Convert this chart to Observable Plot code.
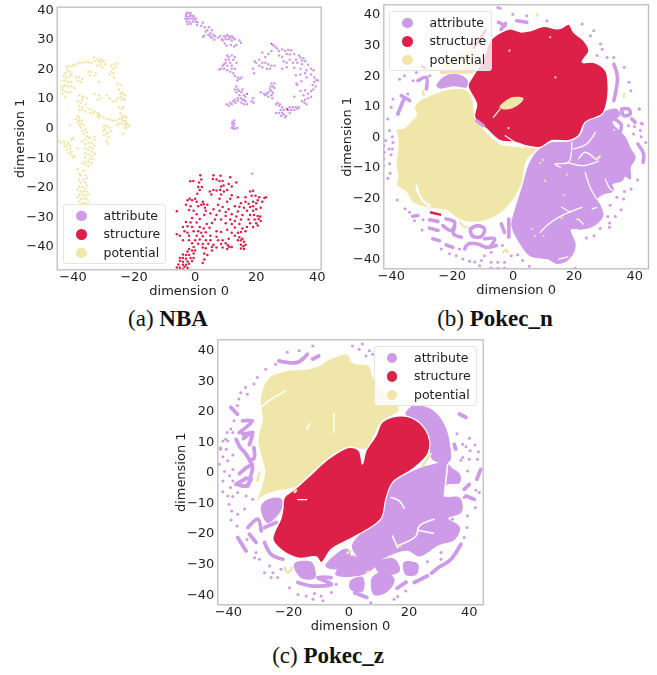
<!DOCTYPE html>
<html><head><meta charset="utf-8">
<script src="https://cdn.jsdelivr.net/npm/d3@7"></script>
<script src="https://cdn.jsdelivr.net/npm/@observablehq/plot@0.6"></script>
<style>
html,body{margin:0;padding:0;background:#fff}
#page{position:relative;width:657px;height:675px;overflow:hidden}
.legend{position:absolute;box-sizing:border-box;background:rgba(255,255,255,.8);border:1px solid #e4e4e4;border-radius:3px;font:12.5px "DejaVu Sans",sans-serif;color:#222;filter:blur(.25px)}
.legend .s{position:absolute;width:10.5px;height:10.5px;border-radius:50%;left:12px}
.legend .t{position:absolute;left:39.5px;line-height:14px}
.cap{position:absolute;font:23px "Liberation Serif",serif;color:#111;text-align:center;white-space:nowrap}
.cap b{font-weight:bold}
svg{filter:blur(.3px)}
</style></head><body><div id="page"></div>
<script>
const classes = ["attribute","structure","potential"];
const colors = ["#cd9be8","#dd2047","#f1e6a9"];
const tickValues = [-40,-20,0,20,40];
const yTickValues = [-40,-30,-20,-10,0,10,20,30,40];

// ---- (a) NBA
const nbaAttribute = [[-3,38.5],[-2.5,39],[-2,38.7],[-1.5,38.8],[-3,37.8],[-2.3,37.6],[-1.6,37.9],[-1,38],[-0.5,37.7],[-3.2,37],[-2.6,36.8],[-1.8,36.9],[-1,37],[-0.3,36.8],[0.3,37],[-2.8,36],[-1.9,35.8],[-0.7,36],[0.2,36],[0.8,35.7],[-2.4,35],[-1.4,35.2],[0.6,34.8],[2,34.5],[2.5,35.5],[3.2,34],[4,33],[3.5,32.5],[4.5,34],[5,32],[5.5,33],[5,31],[4.3,31.5],[3,31.2],[2.6,30.7],[5.5,30.5],[6,31.5],[6.5,31],[6.3,29.8],[7.5,30.5],[8.2,31],[8.8,30],[9.5,31],[10,30.8],[10.5,31.5],[11,31],[11.5,30.5],[12,31],[12.5,30.5],[11,30],[10,30],[9,29.5],[12,29.5],[13,30],[13.5,28],[14.5,29.5],[15,28.8],[12.8,27.5],[11.7,28],[10.3,27.8],[9.7,28.5],
[10.5,24.5],[11,24],[12,24.5],[13,24],[10,23],[11,23],[12.5,23],[10,22],[11.5,22],[9.5,21.5],[13.5,22],[9,21],[10.5,21],[12,21],[8.5,20],[9.5,20],[8,19.7],[10.5,19.5],[12,20],[13,20],[11.5,19],[12.5,18.5],[13,17.5],[14,17],[13.8,16],[14.6,16.5],[15.2,17],
[13.5,14],[13,13],[14,13],[14.5,12.5],[15.2,12],[15.5,13],[13.5,12],[16,11],[14.5,11],[16.5,10.5],[14,10],[15,10],[15.5,9.5],[13,9.5],[14,9.2],[16,9.5],[12.5,9],[13.2,8.5],[15.2,8.5],[16,8],[17,8],[16.5,9],[11.5,8.5],[12,8],[11,7.5],[10.3,8],[18.5,9],[19,10],[19.2,8.5],
[12.2,2],[12.8,2.5],[12.2,1.2],[12.6,0.5],[12,0],[13,-0.3],[13.8,0],[12.5,-0.2],[12.8,1.5],[18.7,-15.5],
[25.5,28],[26.2,27.5],[26.8,26.8],[27.5,26],[28.5,26.5],[29.5,26],[30.5,26.3],[31.5,26.2],[30,25],[31,24.8],[27.5,24.5],[28.5,24],[32.5,25],[34,24.5],[34.5,23.8],[35.5,23.5],[36,22.5],[35,22.8],[33,23],[31,23],[29,22.5],[30,22],[32,22],[33.5,22],[35,21.5],[37,21.3],[38,20],[38.8,19.5],[36.5,19.5],[34.5,20],[32.5,20.3],[30,20.5],[28.5,20],[36,18.5],[38,18],[39,17],[39.7,16.2],[40.2,16],[39,15.5],[38.5,14.5],[36.5,17],[34.5,18],[33,17.8],[34.8,15.8],[33.2,15],[39.5,14],[38.7,13],[38,12.5],[37,11.5],[38,10.5],[37,10],[36,9.5],[35,9],[35.5,11],[36.5,8],[35.8,8.5],[34.5,12.5],[36,12.7],[34,7],[33.5,6.5],[33,7],[32.5,6],[32,7],[31.5,6],[31,7],[30.5,6],[30,6.5],[29,6],[28.5,7],[28,6],[27.5,7.5],[27,8.5],[26.5,8],[27.8,8],[28.5,5],[29,4.5],[29.8,4],[28.2,4],[27.5,5],[26.5,5],[29.5,3.5],[31,5],
[20,22],[21,23],[22,25.5],[23,24],[24,25],[25,26],[22,22],[23,22],[24,21.5],[25,21],[26,21],[21,21],[19,20],[19.5,22.5],[19.3,18.5],[22,20.5],[23.5,20],[24.5,20],[26,15],[25,15],[24.7,14],[25.5,14],[26,13.5],[24.5,13],[25,12.5],[24,12],[23.5,11.5],[22.5,11.5],[25.5,11.8],[25,11],[24,10.5],[23,11],[25.3,10],[21.5,12],[33.5,14.5],[32.5,10.5]];
const nbaStructureOutliers = [[25,28.5],[17,11.5],[30.2,6.2]];
const nbaPotential = [[-42,20.5],[-41.5,21],[-40.5,20.8],[-40,21.2],[-39,21.5],[-38,22],[-37,22],[-36,22.2],[-35,22.2],[-34,22],[-33,22.5],[-33.2,23.8],[-32,23],[-31.5,22.5],[-31,23.3],[-30.5,22.5],[-30,22.8],[-31,21.5],[-29.5,21.5],[-30.5,20.5],[-32,21],[-27.5,21],[-26.5,21.5],[-25.5,21.8],[-27,20],[-26,20.5],[-27.5,19],[-26.8,18.5],[-28,18],[-26.5,17],[-34,19],[-35,19],[-32.5,18.5],[-33,17.5],[-34.5,17.8],[-41.8,19.5],[-42.5,18.5],[-41,19],[-43,17.5],[-42,17],[-41,17.5],[-40.5,18],[-39,17],[-38,17.2],[-38.5,16],[-37,16.5],[-37.5,15.5],[-43.5,16],[-42.5,16],[-41.5,15.5],[-40.5,15.5],[-43.8,14],[-43,14],[-42.5,14.5],[-41.5,14],[-40.5,14],[-39.5,13.5],[-43.8,13],[-43,12.5],[-42,12],[-41,12],[-43.5,11.5],[-42.5,10.5],[-31.5,15.5],[-25.5,15],[-24.5,14.5],[-25,13],
[-33,11.5],[-31.5,11],[-31,10],[-32,9.5],[-38,11],[-37,10.5],[-36.5,10.5],[-35.5,10],[-37,9.5],[-38.5,9],[-37.5,8.5],[-36,8],[-38,7.5],[-37,7],[-38,6],[-37,6],[-36,5.5],[-29,11],[-28,10],[-27,9],[-24.5,11.5],[-24,12],[-23.5,11.5],[-23,11],[-24.5,10.5],[-23.5,10],[-23,9.5],[-24,9.5],[-25.5,10],[-26,9],
[-35,6.5],[-34,6],[-33.5,5],[-34.5,5],[-33,5.5],[-32,5],[-31.5,4.5],[-32,4],[-31,4],[-31.5,3.5],[-30,3.5],[-29,3],[-28,2.8],[-27,2.5],[-26,2.5],[-25,3],[-24.5,5],[-24,4],[-23.5,3.5],[-23,4],[-22.5,3.5],[-23.5,7],[-24,6.5],[-25,7],[-24,3],[-23.5,2.3],[-22.8,2.2],[-22.5,1.5],[-23,1],[-24,1.5],[-25,1.5],[-25.5,1],[-22,1],[-21.5,0.5],[-22.5,0],[-23,0],[-23.5,-2],[-38.5,4],[-38,3.5],[-39,3],[-38,2.5],[-37,2.5],[-38.5,2],[-37.5,1.5],[-38,1],[-36.5,1],[-37.5,0.2],[-41,1],
[-30,0.5],[-29,0.5],[-29.5,-0.5],[-28,0],[-30,-1],[-28.5,-1.5],[-29,-2],[-27.5,-1],[-30,-2.5],[-28.5,-3],[-29,-4.5],[-28.5,-5.5],[-36,-0.5],[-37,-1],[-35.5,-1.5],[-36.5,-2],[-35,-3],[-35.5,-2.8],[-34.5,-3.5],[-36,-4],[-33,-3],[-33,-4],[-34,-5],[-35,-5],[-36,-5.5],[-37,-4.5],[-33,-6],[-34.5,-6.5],[-36,-7],[-33.5,-7],[-35,-7.5],[-34,-8],[-33,-8.5],[-36,-8.5],[-35,-9],[-34,-9.5],[-33,-9],[-36,-10],[-34.5,-10.5],[-33.5,-10.5],[-36,-11.5],[-35,-11.5],[-34,-12],[-37,-12],[-36,-12.5],[-35,-13],
[-44.5,-4.5],[-44,-5],[-43,-4.5],[-43,-5.5],[-42,-6],[-41.5,-5],[-42.5,-6.5],[-41,-6],[-40.5,-4],[-40,-3.5],[-41,-7],[-42,-7.5],[-40.5,-8],[-41.5,-8.5],[-40.5,-9],[-39.5,-9.5],[-40,-10],[-38.5,-7],
[-38.5,-14],[-38,-15.5],[-36.5,-14.5],[-37.5,-16],[-36,-16],[-38,-17.5],[-36.5,-17.5],[-35.5,-17],[-37.5,-18.5],[-36,-18.5],[-38,-20],[-37,-20],[-36,-20.5],[-35.5,-19.5],[-38.5,-21],[-37.5,-21.5],[-36.5,-21.5],[-35.5,-21.5],[-38,-22.5],[-37,-22.5],[-36,-23],[-35,-22.5],[-38.5,-23.5],[-37.5,-24],[-36.5,-24],[-35.5,-24],[-38,-25],[-37,-25.5],[-36,-25.5],[-35,-25],[-37.5,-26],[-36.5,-26.5],[-35.5,-26.5]];
const nbaStructure = [[1.7,-16],[6,-16],[8.3,-16.2],[11.5,-16.7],[-1.6,-18.1],[-0.6,-18],[1.3,-18.5],[2,-17.5],[5.8,-17.3],[7,-17.5],[8,-18],[9,-18],[13.5,-18.5],[11,-19],[1,-20],[2.2,-20],[8.5,-19.8],[9.3,-19.5],[12,-19.8],[1.5,-21],[4.8,-21.5],[6,-21],[7,-21.2],[8.2,-21],[9.4,-21.5],[10.5,-21],[18,-21.5],[19,-21.3],[5.3,-22.5],[8.5,-22.5],[0.7,-22.3],[19.8,-23],[12,-22.8],[14,-23.5],[16.5,-23.5],[18.5,-23],[21,-23.5],[22.7,-23.7],[23.2,-23.5],[-2.5,-24.5],[-1.8,-24],[-1,-24.5],[0,-24],[0.5,-25],[2.5,-25],[8,-24],[10.5,-25],[11.5,-24],[15,-25.5],[16.5,-25],[17.5,-25.7],[19,-25],[20,-25.5],[20.5,-24.5],[22,-25],
[-3,-26],[-1.5,-26.5],[1,-26.5],[2,-26],[2.8,-25.8],[3.2,-27],[4,-26],[7.5,-26],[9,-26.8],[13,-26.5],[14.5,-26.7],[16,-27],[18,-26.8],[19,-26.5],[20,-27.5],[21.5,-27],[-2,-27.8],[-0.5,-28],[3.5,-28],[6,-27.5],[8,-28],[10,-28.5],[11,-27.5],[14,-28.3],[17,-28],[19,-28],[-6,-28.2],[0.5,-29.2],[3,-29.5],[5,-29],[7,-29.5],[10,-29.8],[12,-29.2],[13.5,-30],[15.5,-29.5],[18,-29.5],[19.3,-29.5],[20.5,-29.8],[21.3,-30],[-1,-30.5],[1.5,-30.8],[6.5,-31],[8.5,-31],[11.5,-31],[13,-31.5],[15,-31],[17.5,-31],[19.5,-31],[20.8,-30.8],[21.5,-31.5],[-3,-31.8],[-1.5,-32],[0.5,-32],[3.8,-32.5],[5.5,-32.2],[10,-32.3],[12,-32.5],[14.5,-32.5],[18,-32.3],[20,-32.3],[-4,-33.5],[-2.5,-33.3],[-1,-33.5],[1.5,-33.5],[2.8,-34],[4.7,-33.8],[13,-33.7],[15.5,-34],[17,-33.5],[19,-33.5],[20.5,-33],[-3.5,-35],[-2.5,-35.5],[-0.5,-35],[1,-35],[2,-35.5],[3.5,-35.3],[7,-35],[8.5,-35.2],[10.5,-34.5],[12,-35.5],[14,-35.5],[15,-35.2],[16.5,-35],[-6,-36],[-5,-36.5],[-2,-36.5],[0.5,-36.5],[2.5,-36.7],[5,-36.5],[7,-36.8],[13,-36.5],[14.5,-37],[-4,-38],[-2,-38],[0,-38],[1.5,-37.8],[3.5,-38],[5,-38],[7.5,-38],[9,-38],[11,-37.5],[14,-38],[15,-38],[15.5,-37.5],[16,-38.5],[-1,-39],[1,-39.2],[2.5,-39.3],[4.3,-39.2],[6,-39.5],[8.5,-39.3],[10,-39],[10.7,-39.7],[12,-40.3],[15,-39.5],[15.8,-40],[16.5,-39.5],[-0.5,-40.3],[2.5,-40.5],[3.5,-40.7],[5.5,-40.3],[7,-40.5],[9,-40.5],[10.5,-41],[11.2,-40.3],[15,-40.8],[16,-41],[-2.5,-41.8],[-2,-41],[-1,-41.5],[0,-41.5],[-4,-42.8],[-3,-43],[-2,-43],[-0.5,-42.5],[3,-42.5],[5.5,-41.5],[4,-43],[-5,-44],[-4,-44],[-3,-44.3],[-1.5,-44],[-0.5,-44],[3,-44.5],[-5,-45],[-4,-45.3],[-2.5,-45.2],[-1,-45],[2.5,-45.7],[-5.5,-46.2],[-4,-46.3],[-3,-46.3],[-2,-46],[-6,-47.2],[-5,-47.3],[-3.5,-47],[-2.5,-47.3],[-4,-47.8],[-2.2,-48]];

// ---- (b) Pokec_n
const bPotential = [[-30.7,11.8],[-27.4,13.4],[-20.8,15.6],[-15.3,15.3],[-13.1,11.8],[-12.6,6.9],[-8.7,1.4],[-4.3,-2.2],[1,-3.2],[7.8,-4],[4.5,-7.8],[2.9,-15.5],[1.6,-18.2],[-0.6,-21.5],[-4.4,-25.3],[-8.8,-27.4],[-13.7,-28],[-18.1,-26.9],[-22,-24.2],[-28,-23.3],[-33,-21.5],[-35.1,-18.2],[-38.2,-16],[-37.9,-13],[-38.5,-9],[-37.9,-4],[-38,0],[-38.5,2.5],[-36,2.8],[-33.5,5.2],[-31.8,7],[-32.5,9.5]];
const bStructure = [[-14.8,16.7],[-13.1,19.9],[-9.8,25.4],[-8.1,30.3],[-6.5,32.5],[-1,35.2],[2.5,34.2],[5.6,34.6],[10,36],[14.4,35.2],[16,35.5],[18.3,36.8],[19.9,34.1],[23.2,31.4],[24.9,28.1],[22.7,24.3],[26.5,24.3],[30.4,21.6],[31.2,17.2],[30.9,11.8],[29.3,7.4],[23.7,4.7],[21.5,0.3],[18.2,-1.3],[12.7,-1.3],[8.9,-3.5],[4,-2.9],[0.66,-1.85],[-4.3,-1.3],[-8.7,2.5],[-12.6,6.3],[-12,10.7]];
const bHole = [[-4.3,9.6],[-0.4,12.7],[3.2,12.4],[1.8,10.7],[-2.1,9.1]];
const bAttribute = [[8.3,-4.6],[12.7,-2],[18.2,-1.8],[21.5,-0.3],[23.1,2],[23.7,4.7],[29.7,8],[33.5,9],[35.2,7.4],[32.5,4.7],[33.5,3],[36.8,-0.2],[38.5,-4],[40.1,-6.8],[38.5,-10],[38.5,-13.8],[36.8,-12.8],[35.7,-14.4],[32.5,-15.5],[33,-17.7],[29.7,-18.7],[27.5,-20.4],[28.6,-22.6],[29.5,-25.8],[26.4,-29.1],[22.6,-30.2],[18.8,-30.2],[20.4,-35.6],[18.2,-40],[14.4,-41.4],[11.6,-40],[5.6,-38.9],[1.8,-34],[-0.4,-29],[0.66,-24.2],[2.9,-17.1],[5.6,-8.4]];
const bSmallBlob = [[-25,16.7],[-22.4,19.6],[-18.6,20.3],[-15.1,18.3],[-15.3,16.3],[-19.7,16.7],[-24,15.9]];
const bPotentialLegend = [[-24,21],[-20,26],[-13,27.5],[-12,22],[-13.2,21],[-20,20.8]];
const bCracks = [[[19.3,-1.9],[18.2,-8.4],[13.8,-8.9],[15.5,-10]],[[19.9,-4],[24.2,-2.4],[27,1.4]],[[21.5,-7.3],[23.7,-5.1],[27,-7.3]],[[23.7,-11.7],[25.3,-16.6],[27.5,-20.4]],[[30.3,-13.8],[31.9,-17.1],[33,-17.7]],[[8.9,-31.3],[11.6,-28.6],[16,-25.8],[22.6,-23.1]],[[16,-23.1],[18.8,-24.7]],[[21.5,-27],[23.1,-28.6]],[[26,-23.6],[27.5,-23.1]],[[18,-39.3],[15,-40]],[[18,-8.5],[23,-9.5],[28,-8]]];
const bStructureCracks = [[[-6.5,6.3],[-4.3,9]],[[-2.6,0.3],[0.7,-1.9]]];
const bPotentialCracks = [[[-31.8,-16],[-31,-18.7],[-29.1,-21.5],[-27.4,-22.5]]];
const bAttrWorms = [[[-22,-26.9],[-19.2,-28],[-20.3,-30.7],[-23.1,-29.1]],[[-19.2,-29.6],[-19.6,-31.8],[-17,-32.9]],[[-14.1,-30.2],[-11.6,-29.1],[-9.4,-30.2],[-10.5,-32.7],[-13.4,-32.4],[-14.1,-30.2]],[[-15.9,-36.7],[-14.8,-35.1],[-11.6,-35.1],[-8.8,-36.2],[-5.5,-35.6]],[[-9.4,-33.4],[-6.1,-33.4],[-7.2,-35.6]],[[-3.9,-28.5],[-2.8,-31.3]],[[-1.4,-26.9],[-1.4,-32.9]],[[-27.5,-29.9],[-24.7,-30.7]],[[-26.4,-33.4],[-24.2,-34]],[[-22,-35.4],[-19.8,-36.2]],[[-27.5,-27.2],[-24.7,-27.7]],[[-33,-26],[-31.3,-25.8]],[[-4.8,37.4],[-2.6,36.3]],[[1.2,37.9],[4.5,37.4]],[[-4,35],[-2.5,37]],[[-36.8,13.4],[-34,11.8]],[[-36,12],[-37.9,7.4]],[[-31.3,18.3],[-28.5,19.4],[-28.5,15.6]],[[33.1,23.7],[34.3,19.4],[33.1,11.8]],[[35.7,9],[38,9],[38.5,7.4],[36.3,6.9],[35.7,9]],[[39,5.8],[40.1,4.7]],[[41,-2.4],[42.9,-5.7],[42.7,-8.4]],[[35,1],[35.5,4],[33,6]]];
const bAttrDots = [[-38.1,-20.7],[-35.5,-23.6],[-34,-24.7],[-32.4,-27.5],[-29.6,-27.2],[-29.9,-30.5],[-23.6,-36.7],[-20.9,-38.3],[-18.7,-38.9],[-16.5,-40],[-14.3,-40.7],[-12.6,-41],[-10.4,-40.5],[-9.4,-38.9],[-7.2,-41.1],[-5,-41.1],[-2.8,-41.1],[-0.6,-38.9],[-7.2,-42.9],[-5,-43],[-2.8,-42.9],[-11,-42.2],[-17.6,-36.7],[-7.2,-37.8],[-3.5,-35.6],[-39.7,0],[-39.5,-1.9],[-41.9,-1.3],[-42.5,-2.9],[-40.8,-4],[-39.7,-4],[-42.3,-5.1],[-40.1,-5.9],[-42.5,-7.3],[-40.6,-8.9],[-42.5,-9.5],[-40.4,-12],[-41.2,-13.6],[41.5,9],[42.1,4.4],[37.9,3.6],[39.9,3.3],[41.8,2],[42.1,0],[39.6,0.9],[43.6,-1.9],[40.9,-14.2],[38.8,-17.1],[36.6,-17.9],[36.3,-20.4],[34.1,-19.8],[31.9,-22.4],[35.5,-23.9],[33.6,-26.1],[31.1,-26.1],[31.7,-28.2],[31.7,-29.6],[28.6,-30],[26.6,-32.4],[24.1,-33.1],[1.5,-38.6],[3.1,-40.5],[5.3,-42.4],[20.4,-43],[28.7,30.3],[29.3,28.6],[27.6,26.5],[30.9,25.9],[33.1,25.9],[36.5,22.7],[38.1,17.8],[38.7,15],[41.4,9],[42.5,4.1],[26.5,34.6],[25.4,33],[22.7,36.8],[11.1,37.9],[4.5,39.5],[-0.1,40],[-4.3,42],[-5,42.2],[-41.2,5.8],[-40.6,2],[-40.1,9.6],[-37.9,7.4],[-37.3,18.8],[-34.6,13.9],[-39.5,12.3],[-35.7,19.9],[-32.9,18.3],[-27.4,19.9],[-31.8,21]];
const bAttrInset = [[[-12,5.2],[-9.8,3.6]]];
const bPotentialBits = [[[7.8,39.5],[8,40.2]],[[-29.6,15],[-29.4,13.5]],[[36.5,14],[36.4,13]],[[27.6,-7.3],[28.5,-6.5]],[[-3.3,-37.8],[-2.5,-37],[-1.7,-37.8]],[[-17.5,-28],[-16,-29.5],[-15.2,-29.5]]];
const bRedWorms = [[[-27,-24.8],[-24,-25.5]],[[-13,29],[-9,34.8]],[[-30,23],[-29,22.5]]];
const bYellowSpecks = [[12.2,32.5],[-1.2,28.1],[13.9,19.4],[-1.5,2.8],[9.8,-7.6],[8.9,-8.6],[17.7,-12.4],[10.5,-14.4],[24.6,-14.4],[16.6,-19.1],[16,-26.7],[21,-27],[6.1,-30.2],[7.2,-32.4],[10,-32.4],[33.2,2.2]];

// ---- (c) Pokec_z
const cPotential = [[-29.3,21.2],[-29.3,25],[-26.5,31],[-21,33.2],[-14.3,33.7],[-9.9,34.8],[-6.5,37],[-0.4,38.6],[1.2,35.9],[6.8,34.8],[7.9,31.5],[10.1,28.2],[15.6,22.8],[16.7,20],[11.2,16.8],[8.4,11.9],[5.7,7.5],[0.1,8.1],[-6.5,4.8],[-13.2,-1.2],[-17.6,-5],[-22.5,-5.9],[-28.5,-7.8],[-30.8,-10],[-29.1,-5],[-28,0.4],[-29.7,7],[-30.2,10.2],[-29.7,13.5],[-28.7,17.3]];
const cStructure = [[-25.2,-22],[-22.5,-15],[-21.9,-12.1],[-21.4,-8.3],[-17.6,-5.3],[-13.2,-1.4],[-6.5,4.5],[0.1,8.1],[3.4,7],[4.5,2.6],[5.7,7],[9,11.9],[11.2,16.5],[17.8,18.4],[23.4,16.2],[26.7,10.8],[26.2,5.9],[21.2,1],[14.5,-3.4],[12.3,-8.8],[10.6,-15.4],[1.3,-21.4],[-5.8,-25.2],[-9.2,-29.6],[-10.8,-27.7],[-16.4,-28.2],[-21.9,-25.8]];
const cMain = [[12.8,-7.8],[14.5,-3.4],[20.6,-0.1],[24.5,1.5],[30,3.1],[32.5,5],[33,2],[36.7,-0.7],[36.7,-3.4],[32.5,-4],[31.7,-8],[36.7,-8.5],[37.3,-13],[32.8,-15.1],[36.7,-18.1],[35,-22],[30,-23.6],[23.4,-27.4],[19.5,-25.5],[11.7,-28],[6.2,-32.5],[2.9,-27.8],[1.2,-24.1],[4.5,-19.8],[10.6,-16]];
const cLump1 = [[-7.6,-30.7],[-1,-25.2],[0.5,-26.5],[-4,-31.5]];
const cLump2 = [[-4.3,-33.4],[1.2,-27.4],[5.7,-32.8],[1,-34]];
const cLump3 = [[9,-30.1],[15,-28.5],[16.7,-32.3],[10.6,-33.4]];
const cLump4 = [[18.4,-29.6],[22.8,-30.1],[22.3,-33.4],[18.9,-33.4]];
const cLump5 = [[7.9,-34.5],[11.7,-32.9],[15,-35.1],[12.8,-38.9],[8.4,-40]];
const cLump6 = [[0.66,-35.6],[4.5,-34.5],[4.5,-38.9],[0.66,-38.3]];
const cLeftBlob = [[-28.9,-11],[-26.3,-8.9],[-22.5,-8.9],[-22.5,-12.1],[-26.9,-16.5],[-28.5,-14.3]];
const cRightBand = [[19,19],[21.7,21.7],[27.8,20.1],[31.7,15.2],[33.6,7.5],[33.4,3.7],[27.8,4.3],[26.7,11.9],[23.4,16.8]];
const cLowerBlob = [[-18,-30.1],[-12.5,-29.6],[-11.4,-34.5],[-15.8,-34.5]];
const cCracks = [[[16.2,-24.1],[22.3,-20.9],[23.4,-17.6],[28.3,-15.4]],[[14.5,-20.9],[16.2,-24.7]],[[14,-8.3],[16.7,-9.4],[18.4,-11.8]],[[32.8,2.6],[32.2,-2.9],[31.7,-7.8]],[[23,-19],[28,-20]]];
const cPotentialCracks = [[[-29.3,21.2],[-25.5,24],[-21,26.5]],[[-5,13],[-5,19]],[[-14,14],[-13,16]]];
const cStructureCracks = [[[-17,-9],[-14,-9]]];
const cAttrWorms = [[[-23.2,36.4],[-17.1,35.9],[-13.8,38.6]],[[-12,37],[-10,38]],[[-35.3,16.8],[-32,16.8],[-36.4,12.9]],[[-39.2,21.2],[-37,19]],[[-37.4,10.7],[-36,8],[-34.6,6.5],[-33,4],[-32,1.5],[-32.8,-2],[-33.5,-4.5]],[[-36.3,-0.5],[-34,1.5],[-32,2.5]],[[-37.5,-4],[-34,-2]],[[-35,11],[-33,12.5]],[[-35.2,12.4],[-31.9,13]],[[-32,12],[-33,9]],[[-31.5,8],[-31.5,4.5],[-33,4]],[[-32.4,-2.3],[-34.1,-4.5],[-36.9,-4]],[[-33.5,-18.1],[-30.2,-15.4],[-29.1,-19.2]],[[-28,-18.1],[-24.1,-16.5]],[[-36.9,-21.4],[-34.1,-25.8]],[[-28,-23],[-25.8,-26.9],[-21.9,-28.5]],[[-33,-20.3],[-30.8,-23]],[[-16.9,-36.1],[-12.5,-37.2],[-5.8,-36.7],[-10.3,-34.5],[-5.9,-34.5]],[[21.7,-36.1],[26.1,-34]],[[30.6,-30.7],[33.9,-28.5],[37.2,-23.6]],[[38.3,-5.6],[40,-4]],[[38.9,-7.8],[41.6,-8.9]],[[42.5,-2.3],[43.8,0.9]],[[35,9.1],[35.5,7.5]],[[36.7,19],[38.9,17.9]],[[32.8,2],[36,-1.5]],[[2,-39.5],[6,-41]],[[16,-38],[19,-36]],[[27.5,-33],[30,-31]]];
const cAttrDots = [[-41.8,10.2],[-40.2,10.2],[-38.5,13],[-42.6,8],[-40.7,7.5],[-38.5,5.6],[-41.8,5],[-40.2,3.7],[-43,2.6],[-41.3,0.2],[-38.5,0.9],[-39.6,-1.2],[-41.8,-2.9],[-38.5,-2.9],[-41.8,-6.4],[-39.3,-5],[-36.9,-6.7],[-38.5,-8],[-40.2,-7.8],[-39.8,-10.5],[-38.9,-12.7],[-39.1,-15.7],[-37.1,-17.6],[-31.9,-8.9],[-34.1,-7.8],[-34.6,-12.1],[-36.9,-13.8],[-33.8,-22],[-30.8,-26.3],[-31.3,-28],[-29.7,-28.5],[-28,-32.9],[-26.3,-30.7],[-25.2,-32.9],[-25.8,-34.5],[-23.6,-34.5],[-22.5,-31.8],[-19.7,-37.8],[-16.9,-40],[-14.2,-40.5],[-11.4,-39.7],[-9.2,-40.5],[-11.9,-41.6],[-8.6,-42.1],[-5.8,-39.4],[-4.2,-36.7],[35.9,12.6],[40,11.1],[41.9,8.9],[37.8,9.1],[38.9,8.3],[40.3,7],[43,6.7],[42.7,4.2],[40,4.2],[37.8,4.8],[39.4,0.4],[37.2,3.9],[42.2,-5.9],[43.3,-6.7],[42,-11.6],[38.3,-8.3],[39.4,-14.3],[39.2,-18.1],[34.4,-15.4],[30.6,-26.3],[30.6,-28.5],[26.1,-29.3],[38.3,-21.4],[15,-41.6],[16.2,-40.7],[18.9,-38.9],[7.3,-42.7],[1.2,41.3],[3.4,40.2],[6.8,39.7],[4.5,41.9],[5.7,38],[7.9,38.6],[-12,41.3],[-20.4,39.2],[-16.5,39.7],[-24.3,35.3],[-27.6,33.7],[-30.4,31],[-31.5,28.8],[-34.3,27.7],[-35.9,26],[-33.7,25.5],[-36.5,23.9],[-37,21.7],[-40.4,13],[-40.9,10.8],[-42.6,7.5],[-38.1,16.8],[-39.2,14.1]];
const cPotentialBits = [[[-21.4,-31.2],[-20.2,-32.9],[-18.9,-31.2]],[[24.5,2],[27.2,5.9]],[[-29.7,-0.1],[-30.4,-2.9]],[[-0.5,-26.5],[0.5,-26]],[[16.5,-24],[17,-24.2]],[[6,-33],[6.5,-32.5]],[[-18,-6.5],[-17.5,-6]]];

const xy = {x:d=>d[0], y:d=>d[1]};
const scatter = (pts, i, r=1.25) => Plot.dot(pts, {...xy, r, fill:colors[i], clip:true});
const blob = (pts, color, edge=color) => Plot.line(pts, {...xy, curve:"catmull-rom-closed", fill:color, stroke:edge, strokeWidth:1.2, clip:true});
const worms = (lines, color, w) => lines.map(l => Plot.line(l, {...xy, curve:"catmull-rom", stroke:color, strokeWidth:w, strokeLinecap:"round", strokeLinejoin:"round", clip:true}));

function panel(left, top, frame, xd, yd, marks, xt, yt) {
  const W = frame.r + 10, H = frame.b + 32;
  const fig = Plot.plot({
    width: W, height: H, marginLeft: frame.l, marginRight: W - frame.r, marginTop: frame.t, marginBottom: H - frame.b,
    x: {domain: xd, type: "linear"}, y: {domain: yd, type: "linear"},
    style: {background: "transparent", overflow: "visible"},
    marks: [
      ...marks,
      Plot.frame({stroke: "#bdbdbd", strokeWidth: 1.3}),
      Plot.axisX({ticks: xt, tickSize: 0, tickPadding: 2, fontSize: 13, fontFamily:"DejaVu Sans", label: "dimension 0", labelAnchor: "center", labelArrow: "none", labelOffset: 25, fill:"#222"}),
      Plot.axisY({ticks: yt, tickSize: 0, tickPadding: 3.5, fontSize: 13, fontFamily:"DejaVu Sans", label: "dimension 1", labelAnchor: "center", labelArrow: "none", labelOffset: 42, fill:"#222"})
    ]
  });
  fig.style.position = "absolute"; fig.style.left = left+"px"; fig.style.top = top+"px";
  return fig;
}
function legend(l, t) {
  const d = document.createElement("div"); d.className = "legend";
  d.style.cssText = `left:${l}px;top:${t}px;width:103px;height:60px`;
  classes.forEach((c,i)=>{
    const y = 5.5 + i*18.7;
    const s = document.createElement("div"); s.className="s"; s.style.top=y+"px"; s.style.background=colors[i]; d.appendChild(s);
    const e = document.createElement("div"); e.className="t"; e.style.top=(y-2)+"px"; e.textContent=c; d.appendChild(e);
  });
  return d;
}
function caption(cx, y, pre, bold) {
  const d = document.createElement("div"); d.className="cap";
  d.style.left=(cx-100)+"px"; d.style.width="200px"; d.style.top=y+"px";
  d.innerHTML = pre+" <b>"+bold+"</b>"; return d;
}
const page = document.getElementById("page");
page.append(
  panel(0, 0, {l:56.7,r:320.7,t:6.7,b:269.3}, [-45.2,41.3], [-48,40.8], [scatter(nbaAttribute,0), scatter(nbaPotential,2), scatter(nbaStructure,1), scatter(nbaStructureOutliers,1,0.9)], tickValues, yTickValues),
  panel(327, 0, {l:56.3,r:321,t:4.3,b:268.3}, [-42.5,44.5], [-43.2,43.1], [
    scatter(bAttrDots,0,1.5), ...worms(bAttrWorms,colors[0],3.6),
    blob(bAttribute,colors[0]), blob(bSmallBlob,colors[0]),
    ...worms(bCracks,"#fff",1.3),
    blob(bPotentialLegend,colors[2]), blob(bPotential,colors[2],"#fff"), ...worms(bPotentialCracks,"#fff",2.2),
    blob(bStructure,colors[1],"#fff"), blob(bHole,colors[2]), ...worms(bStructureCracks,"#fff",1.2),
    ...worms(bPotentialBits,colors[2],2.5), ...worms(bRedWorms,colors[1],2.5), scatter(bYellowSpecks,2,1.1),
    ...worms(bAttrInset,colors[0],3.5)
  ], tickValues, yTickValues),
  panel(161, 335, {l:56.3,r:321.7,t:4.3,b:269.3}, [-43.5,44.6], [-43.4,43.3], [
    scatter(cAttrDots,0,1.5), ...worms(cAttrWorms,colors[0],3.8),
    blob(cMain,colors[0]), blob(cLump1,colors[0]), blob(cLump2,colors[0]), blob(cLump3,colors[0]), blob(cLump4,colors[0]), blob(cLump5,colors[0]), blob(cLump6,colors[0]), blob(cLeftBlob,colors[0]), blob(cRightBand,colors[0]), blob(cLowerBlob,colors[0]),
    ...worms(cCracks,"#fff",1.6),
    blob(cPotential,colors[2],"#fff"), ...worms(cPotentialCracks,"#fff",1.6),
    blob(cStructure,colors[1],"#fff"), ...worms(cStructureCracks,"#fff",1.2),
    ...worms(cPotentialBits,colors[2],2.5)
  ], tickValues, yTickValues),
  legend(63,204), legend(389,11), legend(373.5,346),
  caption(168,306,"(a)","NBA"), caption(495,306,"(b)","Pokec_n"), caption(328,643,"(c)","Pokec_z")
);
</script></body></html>
